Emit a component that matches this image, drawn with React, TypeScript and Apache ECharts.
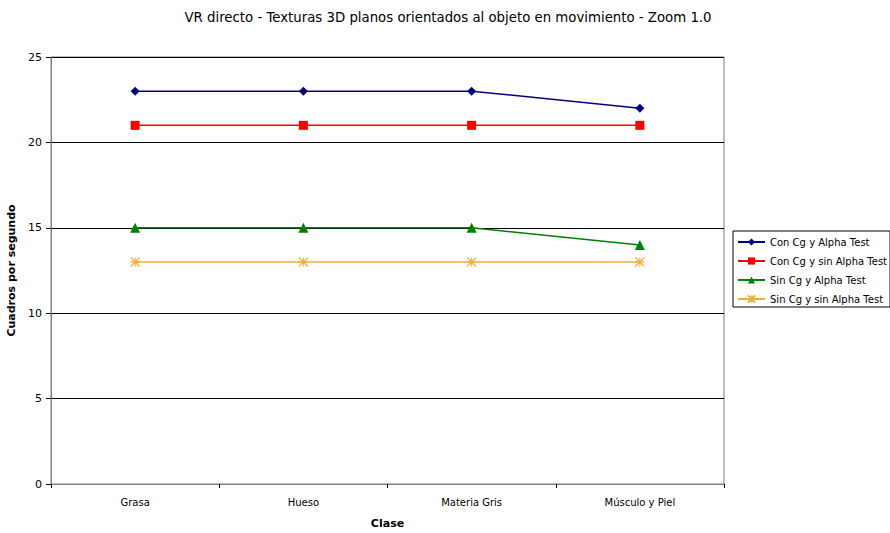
import React, { useEffect, useRef } from "react";
import * as echarts from "echarts";

const categories = ["Grasa", "Hueso", "Materia Gris", "Músculo y Piel"];
const conCgAlpha = [23, 23, 23, 22];
const conCgSinAlpha = [21, 21, 21, 21];
const sinCgAlpha = [15, 15, 15, 14];
const sinCgSinAlpha = [13, 13, 13, 13];
const seriesNames = [
  "Con Cg y Alpha Test",
  "Con Cg y sin Alpha Test",
  "Sin Cg y Alpha Test",
  "Sin Cg y sin Alpha Test",
];

const FONT = "DejaVu Sans";
const ASTERISK = "path://M0,0L10,10M10,0L0,10M5,0L5,10M0,5L10,5";

export default function App() {
  const ref = useRef<HTMLDivElement>(null);
  useEffect(() => {
    if (!ref.current) return;
    const chart = echarts.init(ref.current, null, { renderer: "svg" });
    const mk = (name: string, data: number[], color: string, symbol: string, size: number, extra: any = {}) => ({
      name,
      type: "line",
      data,
      symbol,
      symbolSize: size,
      lineStyle: { color, width: 1.5 },
      itemStyle: { color, ...extra },
      emphasis: { disabled: true },
    });
    chart.setOption({
      animation: false,
      backgroundColor: "#ffffff",
      textStyle: { fontFamily: FONT },
      title: {
        text: "VR directo - Texturas 3D planos orientados al objeto en movimiento - Zoom 1.0",
        left: 443,
        textAlign: "center",
        top: 6,
        textStyle: { fontFamily: FONT, fontSize: 13.3, fontWeight: "normal", color: "#000" },
      },
      legend: {
        orient: "vertical",
        left: 733,
        top: 231,
        padding: [6, 3, 3, 4],
        itemGap: 9,
        itemWidth: 27,
        itemHeight: 9,
        borderColor: "#000",
        borderWidth: 1,
        textStyle: { fontFamily: FONT, fontSize: 10, color: "#000" },
        data: seriesNames,
      },
      grid: {
        left: 51, top: 57, width: 673, height: 427,
        show: true, borderColor: "#808080", borderWidth: 1,
        outerBoundsMode: "none", containLabel: false,
      },
      xAxis: {
        type: "category",
        data: categories,
        boundaryGap: true,
        name: "Clase",
        nameLocation: "middle",
        nameGap: 34,
        nameTextStyle: { fontFamily: FONT, fontSize: 11, fontWeight: "bold", color: "#000" },
        axisLine: { lineStyle: { color: "#808080", width: 1 } },
        axisTick: { show: true, length: 4, inside: false, lineStyle: { color: "#000" } },
        axisLabel: { fontFamily: FONT, fontSize: 10, color: "#000", margin: 13 },
      },
      yAxis: {
        type: "value",
        min: 0,
        max: 25,
        interval: 5,
        name: "Cuadros por segundo",
        nameLocation: "middle",
        nameGap: 34,
        nameTextStyle: { fontFamily: FONT, fontSize: 11, fontWeight: "bold", color: "#000" },
        axisLine: { show: true, lineStyle: { color: "#808080", width: 1 } },
        axisTick: { show: true, length: 5, lineStyle: { color: "#000" } },
        axisLabel: { fontFamily: FONT, fontSize: 11, color: "#000", margin: 9 },
        splitLine: { show: true, lineStyle: { color: "#000", width: 1 } },
      },
      series: [
        mk(seriesNames[0], conCgAlpha, "#000080", "diamond", 9),
        mk(seriesNames[1], conCgSinAlpha, "#ff0000", "rect", 9),
        mk(seriesNames[2], sinCgAlpha, "#008000", "triangle", 10),
        mk(seriesNames[3], sinCgSinAlpha, "#f0b040", ASTERISK, 9, { borderColor: "#f0b040", borderWidth: 1.2 }),
      ],
    });
    return () => chart.dispose();
  }, []);
  return <div ref={ref} style={{ position: "fixed", left: 0, top: 0, width: 890, height: 533 }} />;
}
